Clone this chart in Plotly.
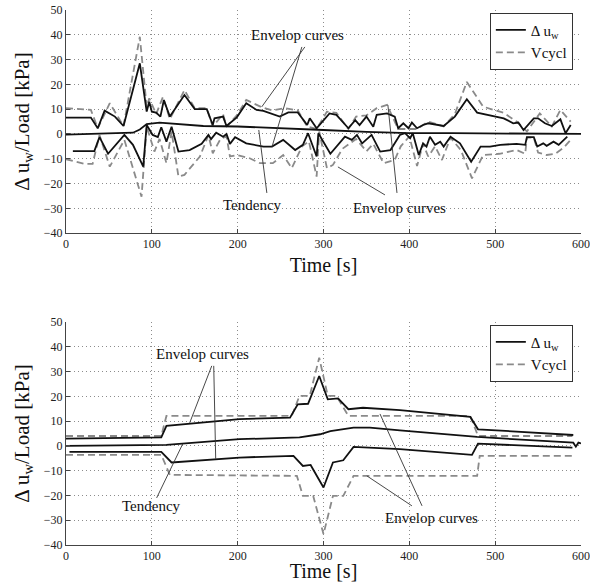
import plotly.graph_objects as go

# ---------------- Data: top panel ----------------
top_up_t = [0, 29, 37, 45, 57, 67, 86, 94, 97, 100, 105, 110, 114, 121, 138, 150, 164, 171, 173, 183,
            187, 199, 210, 222, 230, 249, 259, 270, 281, 284, 292, 307, 315, 329, 337, 342, 350, 358, 362, 374,
            383, 387, 393, 399, 403, 409, 416, 422, 440, 453, 467, 479, 510, 521, 527, 533, 545, 550, 558, 566,
            576, 582, 588]
top_up = [6.6, 6.6, 2.3, 9.4, 7.0, 3.2, 28.5, 9.0, 13.0, 9.0, 8.6, 7.0, 13.7, 7.0, 15.7, 10.0, 10.0, 3.6, 6.3, 7.0,
          3.2, 6.7, 12.4, 9.7, 9.3, 7.0, 8.7, 8.7, 3.6, 6.3, 2.3, 8.3, 7.7, 2.3, 5.6, 3.6, 7.0, 2.9, 7.7, 8.3,
          7.0, 2.3, 4.3, 2.3, 4.6, 2.3, 3.6, 4.3, 3.2, 7.0, 14.0, 8.6, 6.3, 4.3, 4.6, 1.6, 6.3, 6.3, 4.3, 3.2,
          5.9, 0.3, 3.6]

top_lo_t = [8, 33, 39, 49, 68, 78, 90, 94, 101, 107, 111, 117, 123, 131, 144, 158, 166, 169, 175, 183,
            187, 191, 197, 210, 230, 240, 253, 267, 276, 282, 292, 294, 308, 325, 333, 339, 345, 356, 366, 378,
            383, 389, 395, 401, 404, 411, 416, 420, 424, 430, 436, 440, 448, 459, 472, 483, 494, 506, 525, 535,
            537, 545, 549, 556, 560, 568, 574, 580, 584]
top_lo = [-6.9, -6.9, -1.3, -8.0, -0.4, -4.4, -13.2, 3.6, -0.4, -1.3, 2.7, -3.1, 2.9, -7.1, -6.5, -4.0, -0.4, -2.1, 0.5, -1.1,
          0.0, -4.0, -1.3, -3.8, -5.1, -5.1, -2.4, -6.5, -4.4, 0.3, -9.1, 0.3, -8.0, -1.1, -2.4, -0.4, -3.8, -0.4, -7.1, -6.5,
          -3.8, -0.4, 0.3, -1.7, 0.3, -8.5, -3.8, -5.1, -1.1, -4.4, -3.1, -5.1, -1.1, -3.8, -11.2, -5.1, -5.1, -4.4, -4.0, -4.4,
          -1.3, -1.3, -5.1, -3.8, -4.8, -3.1, -4.4, -2.4, -1.1]

top_tend_t = [0, 30, 60, 78, 86, 94, 109, 130, 160, 200, 250, 300, 350, 400, 450, 500, 550, 600]
top_tend = [-0.3, 0.0, 0.3, 0.5, 1.8, 4.0, 4.6, 4.0, 3.2, 3.0, 2.4, 1.6, 0.8, 0.3, 0.3, 0.2, 0.1, 0.0]

top_vu_t = [0, 22, 29, 37, 51, 67, 86, 94, 97, 105, 113, 121, 138, 150, 164, 171, 183, 187, 199, 210,
            228, 240, 255, 270, 281, 292, 304, 315, 329, 338, 350, 362, 374, 387, 399, 409, 422, 440, 453, 467,
            486, 510, 525, 537, 552, 566, 576, 588]
top_vu = [10.4, 9.7, 9.7, 2.3, 12.4, 3.2, 39.2, 11.0, 14.4, 8.0, 15.0, 6.0, 17.7, 10.4, 10.4, 3.0, 8.0, 3.0, 7.5, 13.7,
          10.8, 9.5, 10.4, 9.5, 3.0, 2.0, 9.0, 8.5, 2.0, 7.0, 7.5, 10.4, 11.7, 2.0, 2.0, 2.0, 5.0, 3.0, 8.0, 21.0,
          11.0, 8.5, 5.0, 1.0, 8.3, 3.0, 9.7, 5.0]

top_vl_t = [0, 22, 31, 39, 51, 68, 88, 94, 103, 109, 117, 123, 131, 138, 156, 166, 171, 180, 187, 191,
            199, 214, 226, 236, 241, 253, 263, 275, 283, 292, 295, 304, 311, 322, 338, 350, 358, 370, 383, 390,
            400, 409, 416, 422, 430, 438, 448, 460, 473, 486, 505, 525, 535, 537, 545, 550, 560, 570, 580, 588]
top_vl = [-10.2, -12.1, -12.1, -0.4, -13.2, -2.4, -25.3, 3.0, -7.1, -2.0, -11.8, 1.0, -17.2, -16.5, -9.1, -0.5, -7.8, -2.0, -1.0, -9.1,
          -8.5, -9.8, -11.8, -11.8, -11.8, -8.5, -13.8, -5.0, -3.0, -17.2, 1.0, -13.8, -12.5, -6.0, -2.0, -7.0, -4.0, -11.8, -10.5, -5.0,
          -1.0, -12.9, -4.0, -9.1, -5.0, -10.5, -1.5, -6.5, -17.9, -8.5, -8.0, -6.5, -8.0, -1.5, -1.5, -7.5, -8.5, -8.0, -5.5, -2.4]

# ---------------- Data: bottom panel ----------------
bot_up_t = [0, 111, 117, 202, 261, 270, 282, 295, 305, 317, 329, 346, 389, 471, 480, 591]
bot_up = [2.9, 3.4, 8.1, 10.8, 11.4, 16.8, 17.0, 28.2, 18.8, 19.2, 14.8, 15.4, 14.4, 11.7, 6.7, 4.4]

bot_tend_t = [0, 117, 202, 272, 296, 308, 335, 354, 389, 479, 591, 594, 597, 600]
bot_tend = [0.0, 0.4, 2.7, 3.4, 4.7, 6.0, 7.4, 7.4, 6.3, 3.6, 1.3, -0.3, 1.3, 1.0]

bot_lo_t = [4, 111, 123, 202, 265, 276, 285, 300, 311, 323, 335, 389, 473, 480, 590]
bot_lo = [-2.4, -2.4, -6.7, -4.7, -4.0, -8.1, -7.7, -16.8, -6.7, -5.8, -0.4, -1.3, -3.6, 0.9, -0.7]

bot_vu_t = [0, 111, 117, 263, 272, 284, 295, 305, 315, 329, 471, 480, 590]
bot_vu = [4.0, 4.0, 12.1, 12.1, 20.2, 20.2, 35.6, 20.2, 20.2, 12.1, 12.1, 4.0, 4.0]

bot_vl_t = [0, 111, 121, 269, 276, 288, 300, 311, 323, 335, 479, 482, 590]
bot_vl = [-3.6, -3.6, -11.7, -12.1, -20.2, -20.2, -35.6, -20.2, -20.2, -12.1, -12.1, -4.0, -4.0]

x_ticks = [0, 100, 200, 300, 400, 500, 600]
y_ticks = [-40, -30, -20, -10, 0, 10, 20, 30, 40, 50]

FONT = "Liberation Serif"
SOLID = dict(color="#111111", width=1.8)
DASH = dict(color="#8a8a8a", width=1.8, dash="7px,4px")

fig = go.Figure()

def add_panel(xa, ya, legend, up_t, up, lo_t, lo, te_t, te, vu_t, vu, vl_t, vl):
    fig.add_trace(go.Scatter(x=vu_t, y=vu, mode="lines", line=DASH, name="Vcycl",
                             showlegend=False, xaxis=xa, yaxis=ya, legend=legend))
    fig.add_trace(go.Scatter(x=vl_t, y=vl, mode="lines", line=DASH, name="Vcycl",
                             showlegend=False, xaxis=xa, yaxis=ya, legend=legend))
    fig.add_trace(go.Scatter(x=up_t, y=up, mode="lines", line=SOLID, name="Δ u<sub>w</sub>",
                             showlegend=True, xaxis=xa, yaxis=ya, legend=legend, legendrank=1))
    fig.add_trace(go.Scatter(x=lo_t, y=lo, mode="lines", line=SOLID, name="Δ u<sub>w</sub>",
                             showlegend=False, xaxis=xa, yaxis=ya, legend=legend))
    fig.add_trace(go.Scatter(x=te_t, y=te, mode="lines", line=SOLID, name="Tendency",
                             showlegend=False, xaxis=xa, yaxis=ya, legend=legend))
    fig.add_trace(go.Scatter(x=[None], y=[None], mode="lines", line=DASH, name="Vcycl",
                             showlegend=True, xaxis=xa, yaxis=ya, legend=legend, legendrank=2))

add_panel("x", "y", "legend", top_up_t, top_up, top_lo_t, top_lo, top_tend_t, top_tend,
          top_vu_t, top_vu, top_vl_t, top_vl)
add_panel("x2", "y2", "legend2", bot_up_t, bot_up, bot_lo_t, bot_lo, bot_tend_t, bot_tend,
          bot_vu_t, bot_vu, bot_vl_t, bot_vl)

axis_common = dict(
    showgrid=True, gridcolor="#8c8c8c", griddash="1px,3px", gridwidth=1,
    zeroline=False, showline=True, linecolor="#444", linewidth=1,
    ticks="inside", ticklen=4, tickcolor="#444",
    tickfont=dict(family=FONT, size=12, color="#222"),
    mirror=False, automargin=False,
)

xt = dict(text="Time [s]", font=dict(family=FONT, size=20, color="#111"), standoff=7)
yt = dict(text="Δ u<sub>w</sub>/Load [kPa]", font=dict(family=FONT, size=21, color="#111"), standoff=8)

legend_common = dict(xanchor="left", yanchor="top", bgcolor="white",
                     bordercolor="#333", borderwidth=1, font=dict(family=FONT, size=15, color="#111"),
                     tracegroupgap=0, itemwidth=30)

fig.update_layout(
    width=590, height=582,
    margin=dict(l=66, r=9, t=10, b=37, autoexpand=False),
    paper_bgcolor="white", plot_bgcolor="white",
    font=dict(family=FONT, size=14, color="#111"),
    xaxis=dict(domain=[0, 1], range=[0, 600], tickvals=x_ticks, anchor="y", title=xt, **axis_common),
    yaxis=dict(domain=[0.583, 1.0], range=[-40, 50], tickvals=y_ticks, anchor="x", title=yt, **axis_common),
    xaxis2=dict(domain=[0, 1], range=[0, 600], tickvals=x_ticks, anchor="y2", title=xt, **axis_common),
    yaxis2=dict(domain=[0, 0.4168], range=[-40, 50], tickvals=y_ticks, anchor="x2", title=yt, **axis_common),
    legend=dict(x=0.823, y=0.995, **legend_common),
    legend2=dict(x=0.823, y=0.412, **legend_common),
    showlegend=True,
)

# ---------------- Annotations ----------------
ann_font = dict(family=FONT, size=15, color="#111")
texts = [
    ("x", "y", 270, 40.0, "Envelop curves"),
    ("x", "y", 217.6, -28.6, "Tendency"),
    ("x", "y", 389, -29.8, "Envelop curves"),
    ("x2", "y2", 158.6, 37.1, "Envelop curves"),
    ("x2", "y2", 99.4, -24.2, "Tendency"),
    ("x2", "y2", 425.3, -29.0, "Envelop curves"),
]
for xr, yr, xv, yv, tx in texts:
    fig.add_annotation(x=xv, y=yv, xref=xr, yref=yr, text=tx, showarrow=False,
                       font=ann_font, bgcolor="rgba(255,255,255,0)")

pointer_lines = [
    ("x", "y", 278.3, 35.1, 228.0, 10.9),
    ("x", "y", 274.8, 35.1, 240.0, -5.2),
    ("x", "y", 234.0, -23.8, 224.6, 1.6),
    ("x", "y", 371.6, -24.6, 316.8, -13.3),
    ("x", "y", 385.6, -23.8, 375.0, 11.7),
    ("x2", "y2", 169.8, 32.3, 144.1, 9.3),
    ("x2", "y2", 172.1, 32.3, 174.4, -5.2),
    ("x2", "y2", 105.6, -21.0, 136.0, 0.8),
    ("x2", "y2", 403.0, -24.2, 350.5, -12.1),
    ("x2", "y2", 414.8, -24.2, 365.8, 12.9),
]
for xr, yr, x0, y0, x1, y1 in pointer_lines:
    fig.add_shape(type="line", xref=xr, yref=yr, x0=x0, y0=y0, x1=x1, y1=y1,
                  line=dict(color="#333", width=0.9))

fig.write_html("out.html",
               config={"displayModeBar": False},
               post_script="document.body.style.margin='0';document.body.style.overflow='hidden';")
